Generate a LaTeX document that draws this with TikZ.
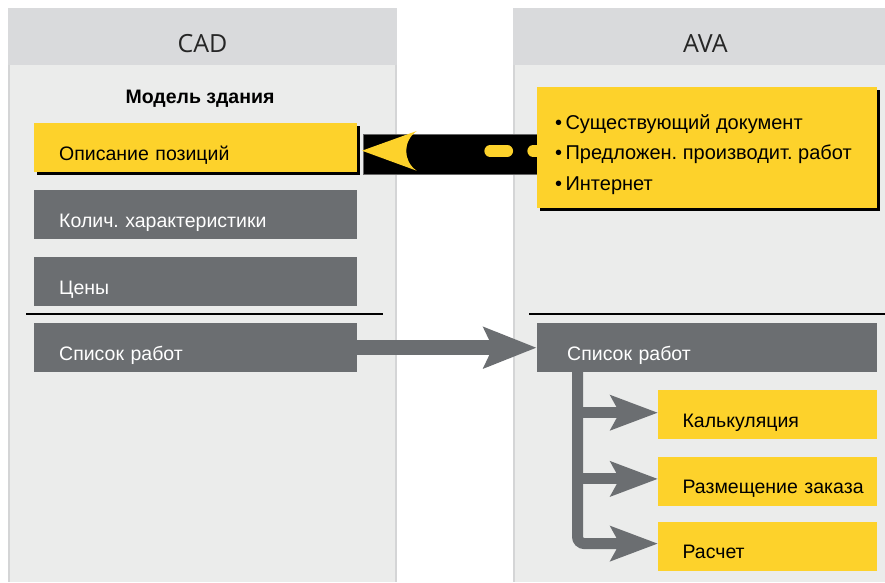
\documentclass[tikz,border=0pt]{standalone}
\usepackage{fontspec}
\setmainfont{Liberation Sans}
\newfontfamily\headfont{Open Sans}
\usetikzlibrary{arrows.meta,shadows}
\definecolor{yel}{HTML}{FDD22B}
\definecolor{boxgray}{HTML}{6B6E71}
\definecolor{headgray}{HTML}{D9DADC}
\definecolor{bodygray}{HTML}{EBECEB}
\definecolor{edgegray}{HTML}{D4D5D6}
\frenchspacing
\begin{document}
\begin{tikzpicture}[x=1pt,y=-1pt,
  headtext/.style={font=\headfont\fontsize{25}{30}\selectfont, text=black!85, inner sep=0pt},
  itembox/.style={anchor=north west, inner xsep=25pt, inner ysep=0pt, text width=273pt,
    align=left, text height=37pt, text depth=12pt, font=\fontsize{19.5}{23}\selectfont},
  graybox/.style={itembox, fill=boxgray, text=white},
  yelbox/.style={itembox, fill=yel, text=black},
  smallyel/.style={yelbox, inner xsep=24.4pt, text width=170.2pt},
  shadowed/.style={drop shadow={shadow xshift=3pt, shadow yshift=-3pt, fill=black, opacity=1}},
  srctext/.style={anchor=base west, inner sep=0pt, font=\fontsize{20}{24}\selectfont},
  bigarrow/.style={draw=boxgray, line width=14.7pt, -{Stealth[length=52.5pt, width=40pt, inset=8.7pt]}},
  brancharrow/.style={draw=boxgray, line width=11pt, -{Stealth[length=47pt, width=34pt, inset=8.7pt]}},
  sepline/.style={draw=black, line width=2pt}]
\useasboundingbox (0,0) rectangle (885,582);
\fill[white] (0,0) rectangle (885,582);
% columns
\fill[headgray] (8,8) rectangle (397,65);
\fill[edgegray] (8,65) rectangle (397,582);
\fill[bodygray] (10,65) rectangle (395,582);
\fill[headgray] (513,8) rectangle (885,65);
\fill[edgegray] (513,65) rectangle (885,582);
\fill[bodygray] (515,65) rectangle (885,582);
\node[headtext] (cad) at (202.5,44) {CAD};
\node[headtext] (ava) at (705.4,44) {AVA};
\node[anchor=base, inner sep=0pt, font=\bfseries\fontsize{19.5}{23}\selectfont] (model) at (200,103) {Модель здания};
% left boxes
\node[yelbox, shadowed] (opis) at (34,123) {Описание позиций};
\node[graybox] (kol) at (34,190) {Колич. характеристики};
\node[graybox] (ceny) at (34,257) {Цены};
\node[graybox] (lsl) at (34,323) {Список работ};
\coordinate (lline1) at (26,313.5);
\coordinate (lline2) at (383,313.5);
\draw[sepline] (lline1) -- (lline2);
% black band with yellow arrow
\filldraw[fill=black, draw=black!60, line width=0.6pt] (363,134) rectangle (545,174);
\fill[yel] (362,150.7) -- (416.7,131) .. controls (402.7,141) and (402.7,161) .. (416.7,170.7) -- cycle;
\draw[yel, line width=11.7pt, line cap=round, dash pattern=on 17pt off 26pt] (490.2,151) -- (560,151);
% source box
\node[fill=yel, shadowed, anchor=north west, minimum width=340pt, minimum height=121pt, inner sep=0pt] (src) at (537,87) {};
\node[srctext] (s1) at (555,129) {\textbullet\,Существующий документ};
\node[srctext] (s2) at (555,159.5) {\textbullet\,Предложен. производит. работ};
\node[srctext] (s3) at (555,190) {\textbullet\,Интернет};
% right side
\coordinate (rline1) at (529,314);
\coordinate (rline2) at (885,314);
\draw[sepline] (rline1) -- (rline2);
\node[graybox, inner xsep=30.3pt, text width=279.7pt] (rsl) at (536.7,323) {Список работ};
\node[smallyel] (kalk) at (658,390) {Калькуляция};
\node[smallyel] (razm) at (658,456.7) {\mbox{Размещение заказа}};
\node[smallyel] (rasch) at (658,521.7) {Расчет};
% arrows
\draw[bigarrow] (lsl.east) -- (rsl.west);
\coordinate (trunk) at ([xshift=40.8pt, yshift=2pt]rsl.south west);
\coordinate (kin) at ([yshift=2pt]kalk.west);
\coordinate (zin) at ([yshift=2.5pt]razm.west);
\coordinate (rin) at ([yshift=2.8pt]rasch.west);
\draw[brancharrow, rounded corners=7pt] (trunk) |- (rin);
\draw[brancharrow] (trunk |- kin) -- (kin);
\draw[brancharrow] (trunk |- zin) -- (zin);
\end{tikzpicture}
\end{document}
